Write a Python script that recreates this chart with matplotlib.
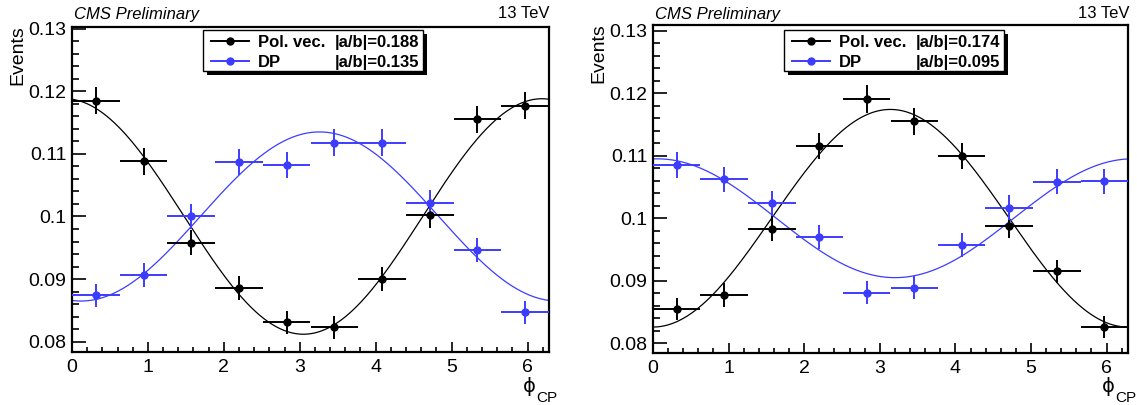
import numpy as np
import matplotlib
matplotlib.use('Agg')
import matplotlib.pyplot as plt
from matplotlib.patches import Rectangle
from matplotlib.lines import Line2D
from matplotlib.ticker import MultipleLocator

plt.rcParams['font.family'] = ['Liberation Sans', 'DejaVu Sans']

# ---------------- data ----------------
bin_centers = [0.314, 0.942, 1.571, 2.199, 2.827, 3.456, 4.084, 4.712, 5.341, 5.969]
bin_half_width = 0.314
x_ticks = [0, 1, 2, 3, 4, 5, 6]
y_ticks = [0.08, 0.09, 0.10, 0.11, 0.12, 0.13]
y_tick_labels = ['0.08', '0.09', '0.1', '0.11', '0.12', '0.13']
series_names = ['Pol. vec.', 'DP']

left_polvec = [0.1185, 0.1088, 0.0958, 0.0886, 0.0831, 0.0823, 0.0900, 0.1002, 0.1155, 0.1177]
left_polvec_err = [0.0022, 0.0021, 0.0020, 0.0019, 0.0018, 0.0018, 0.0019, 0.0020, 0.0022, 0.0022]
left_dp = [0.0874, 0.0907, 0.1000, 0.1087, 0.1082, 0.1118, 0.1118, 0.1022, 0.0947, 0.0847]
left_dp_err = [0.0018, 0.0019, 0.0020, 0.0021, 0.0021, 0.0021, 0.0021, 0.0020, 0.0019, 0.0018]

right_polvec = [0.0855, 0.0877, 0.0983, 0.1116, 0.1191, 0.1155, 0.1100, 0.0988, 0.0915, 0.0826]
right_polvec_err = [0.0018, 0.0019, 0.0020, 0.0021, 0.0022, 0.0022, 0.0021, 0.0020, 0.0019, 0.0018]
right_dp = [0.1085, 0.1062, 0.1024, 0.0970, 0.0881, 0.0889, 0.0957, 0.1017, 0.1058, 0.1059]
right_dp_err = [0.0021, 0.0020, 0.0020, 0.0019, 0.0018, 0.0018, 0.0019, 0.0020, 0.0020, 0.0020]

# fit: mean * (1 + |a/b| * cos(phi - phi_peak))
left_fit_mean = [0.1000, 0.1000]
left_fit_ratio = [0.188, 0.135]
left_fit_peak = [6.19, 3.26]
right_fit_mean = [0.1000, 0.1000]
right_fit_ratio = [0.174, 0.095]
right_fit_peak = [3.14, 0.06]

# ---------------- style ----------------
W, H = 1137, 405
BLACK = '#000000'
BLUE = '#3c3cff'
colors = [BLACK, BLUE]

fig = plt.figure(figsize=(W / 100, H / 100), dpi=100)


def fxy(x, y):
    return x / W, 1 - y / H


def make_panel(rect, ylim, vals, errs, means, ratios, peaks, leg_dx):
    ax = fig.add_axes(rect)
    ax.set_xlim(0, 2 * np.pi)
    ax.set_ylim(*ylim)
    xs = np.linspace(0, 2 * np.pi, 500)
    for v, e, m, r, p, c in zip(vals, errs, means, ratios, peaks, colors):
        ax.plot(xs, m * (1 + r * np.cos(xs - p)), color=c, lw=0.9, zorder=2)
        ax.errorbar(bin_centers, v, xerr=bin_half_width, yerr=e, fmt='o', color=c,
                    ms=5, elinewidth=1.4, capsize=0, zorder=3, clip_on=True)
    for s in ['top', 'right', 'left', 'bottom']:
        ax.spines[s].set_linewidth(1.6)
    ax.set_xticks(x_ticks)
    ax.set_yticks(y_ticks)
    ax.set_yticklabels(y_tick_labels)
    ax.xaxis.set_minor_locator(MultipleLocator(0.2))
    ax.yaxis.set_minor_locator(MultipleLocator(0.002))
    ax.tick_params(axis='both', which='both', direction='in', top=False, right=False,
                   labelsize=14)
    ax.tick_params(axis='y', which='major', length=10, width=1.2, pad=4)
    ax.tick_params(axis='y', which='minor', length=5, width=1.2)
    ax.tick_params(axis='x', which='major', length=7, width=1.2, pad=5)
    ax.tick_params(axis='x', which='minor', length=3.5, width=1.2)

    # Events label
    ax.text(-0.114, 1.005, 'Events', rotation=90, ha='center', va='top',
            fontsize=14, transform=ax.transAxes)

    # figure-pixel geometry of the axes
    x0 = rect[0] * W
    x1 = (rect[0] + rect[2]) * W

    # header texts
    fig.text(*fxy(x0 + 2, 19), 'CMS Preliminary', style='italic', fontsize=12,
             ha='left', va='baseline')
    fig.text(*fxy(x1 + 1, 18), '13 TeV', fontsize=12, ha='right', va='baseline')

    # x label  phi_CP
    fig.text(*fxy(x1 - 20, 387), '\u03d5', family=['DejaVu Sans'], fontsize=14,
             ha='center', va='center')
    fig.text(*fxy(x1 - 13, 402), 'CP', fontsize=11, ha='left', va='baseline')

    # legend (ROOT style with shadow)
    bx0, bx1, by0, by1 = 203 + leg_dx, 423 + leg_dx, 30, 71
    sh = 4
    fig.patches.append(Rectangle(fxy(bx0 + sh, by1 + sh), (bx1 - bx0) / W, (by1 - by0) / H,
                                 transform=fig.transFigure, facecolor='black',
                                 edgecolor='black', lw=0, zorder=5))
    fig.patches.append(Rectangle(fxy(bx0, by1), (bx1 - bx0) / W, (by1 - by0) / H,
                                 transform=fig.transFigure, facecolor='white',
                                 edgecolor='black', lw=1.0, zorder=6))
    rows_y = [41, 61]
    for name, r, c, yy in zip(series_names, ratios, colors, rows_y):
        fig.lines.append(Line2D([(211 + leg_dx) / W, (249 + leg_dx) / W],
                                [1 - yy / H, 1 - yy / H], transform=fig.transFigure,
                                color=c, lw=1.4, zorder=7))
        fig.lines.append(Line2D([(230 + leg_dx) / W], [1 - yy / H], transform=fig.transFigure,
                                color=c, marker='o', ms=5, lw=0, zorder=7))
        fig.text(*fxy(258 + leg_dx, yy), name, fontsize=12, fontweight='bold',
                 ha='left', va='center_baseline', zorder=8)
        fig.text(*fxy(335 + leg_dx, yy), '|a/b|=%.3f' % r, fontsize=12, fontweight='bold',
                 ha='left', va='center_baseline', zorder=8)
    return ax


make_panel([72 / W, (H - 352.4) / H, 477 / W, 325.7 / H], (0.0783, 0.1303),
           [left_polvec, left_dp], [left_polvec_err, left_dp_err],
           left_fit_mean, left_fit_ratio, left_fit_peak, 0)
make_panel([653 / W, (H - 352.7) / H, 475 / W, 327.7 / H], (0.0785, 0.1309),
           [right_polvec, right_dp], [right_polvec_err, right_dp_err],
           right_fit_mean, right_fit_ratio, right_fit_peak, 581)

fig.savefig('out.png', dpi=100)
